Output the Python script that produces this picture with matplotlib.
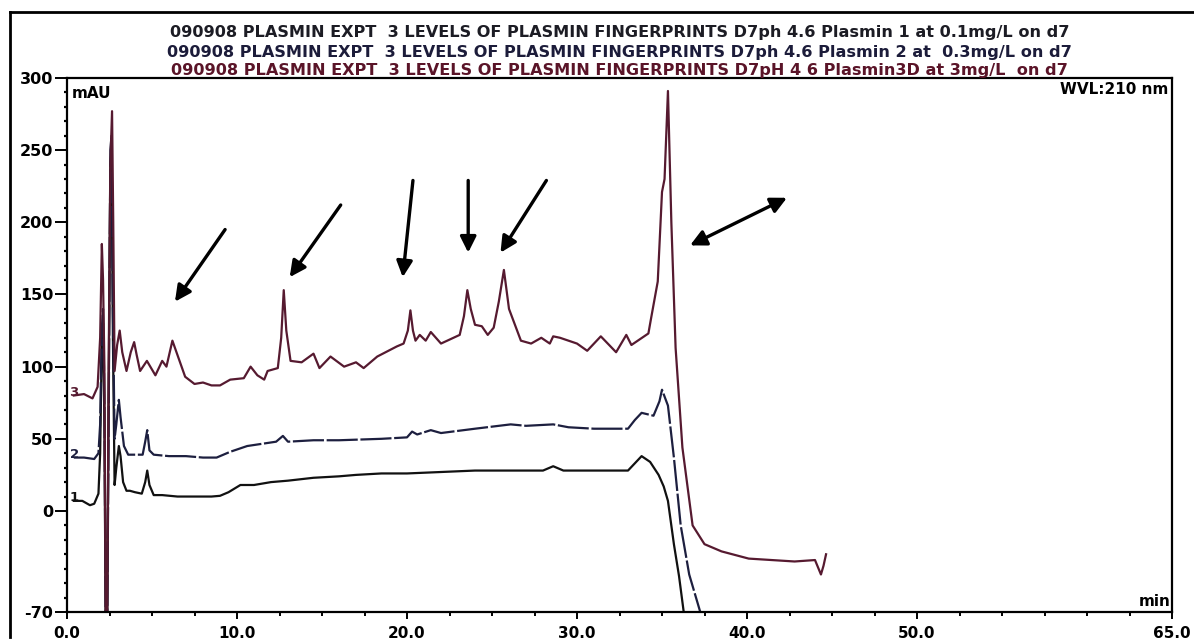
import matplotlib
matplotlib.use("Agg")
import matplotlib.pyplot as plt
from matplotlib.lines import Line2D
from matplotlib.ticker import MultipleLocator, FixedLocator

# chromatogram traces (time in min, signal in mAU)
t1 = [0.4, 0.9, 1.35, 1.6, 1.85, 1.95, 2.05, 2.12, 2.2, 2.28, 2.36, 2.45, 2.55, 2.62, 2.7,
      2.8, 2.9, 3.05, 3.15, 3.3, 3.5, 3.7, 4.0, 4.4, 4.6, 4.72, 4.85, 5.1, 5.6, 6.5, 7.5,
      8.5, 9.0, 9.5, 10.2, 11.0, 12.0, 13.0, 14.5, 16.0, 17.0, 18.5, 20.0, 22.0, 24.0, 26.0,
      28.0, 28.6, 29.2, 31.0, 33.0, 33.4, 33.8, 34.3, 34.8, 35.1, 35.35, 35.7, 36.0, 36.3]
v1 = [7, 7, 4, 5, 12, 40, 120, 130, 60, -90, -90, 80, 240, 250, 120,
      18, 30, 45, 38, 20, 14, 14, 13, 12, 20, 28, 18, 11, 11, 10, 10,
      10, 10.5, 13, 18, 18, 20, 21, 23, 24, 25, 26, 26, 27, 28, 28,
      28, 31, 28, 28, 28, 33, 38, 34, 25, 17, 7, -23, -45, -72]

t2 = [0.4, 1.0, 1.6, 1.85, 1.95, 2.05, 2.12, 2.2, 2.28, 2.36, 2.45, 2.55, 2.62, 2.7, 2.8,
      2.9, 3.05, 3.15, 3.35, 3.6, 4.0, 4.45, 4.6, 4.72, 4.85, 5.1, 6.0, 7.0, 8.0, 8.8, 9.6,
      10.6, 12.3, 12.7, 13.0, 14.5, 16.0, 18.5, 20.0, 20.3, 20.6, 21.4, 22.0, 24.0, 26.1,
      27.0, 28.6, 29.5, 31.0, 33.0, 33.4, 33.8, 34.5, 34.85, 35.0, 35.35, 35.7, 36.1, 36.6, 37.3]
v2 = [37, 37, 36, 40, 60, 127, 140, 80, -90, -90, 60, 250, 260, 140, 50,
      60, 77, 65, 45, 39, 39, 39, 48, 56, 42, 39, 38, 38, 37, 37, 41,
      45, 48, 52, 48, 49, 49, 50, 51, 55, 53, 56, 54, 57, 60,
      59, 60, 58, 57, 57, 63, 68, 66, 76, 84, 73, 37, -10, -44, -72]

t3 = [0.4, 1.0, 1.5, 1.8, 1.95, 2.05, 2.12, 2.2, 2.28, 2.36, 2.45, 2.55, 2.65, 2.72, 2.8,
      2.95, 3.1, 3.25, 3.5, 3.75, 3.95, 4.1, 4.3, 4.7, 5.2, 5.6, 5.85, 6.2, 6.5, 6.95, 7.5,
      8.0, 8.5, 9.0, 9.6, 10.4, 10.8, 11.2, 11.6, 11.8, 12.4, 12.6, 12.75, 12.9, 13.15, 13.8,
      14.5, 14.85, 15.5, 16.3, 17.0, 17.45, 18.25, 19.4, 19.8, 20.05, 20.2, 20.35, 20.5, 20.75,
      21.1, 21.4, 22.0, 23.1, 23.35, 23.55, 23.75, 24.0, 24.4, 24.75, 25.1, 25.4, 25.7, 26.0,
      26.7, 27.3, 27.9, 28.4, 28.6, 29.0, 30.0, 30.6, 31.4, 32.3, 32.9, 33.2, 34.2, 34.35,
      34.75, 35.0, 35.15, 35.35, 35.55, 35.8, 36.2, 36.8, 37.5, 38.5, 40.1, 42.8, 44.0, 44.35,
      44.5, 44.65]
v3 = [80, 81, 78, 86, 120, 185, 160, 100, -90, -90, 100, 240, 277, 200, 97,
      115, 125, 110, 97, 110, 117, 108, 97, 104, 94, 104, 100, 118, 108, 93, 88,
      89, 87, 87, 91, 92, 100, 94, 91, 97, 99, 120, 153, 125, 104, 103,
      109, 99, 107, 100, 103, 99, 107, 114, 116, 125, 139, 125, 118, 122,
      118, 124, 116, 122, 135, 153, 140, 129, 128, 122, 127, 145, 167, 140,
      118, 116, 120, 116, 121, 120, 116, 111, 121, 110, 122, 115, 123, 133,
      159, 221, 230, 291, 200, 113, 44, -10, -23, -28, -33, -35, -34, -44,
      -38, -30]

trace_names = ["1", "2", "3"]
header_lines = [
    "090908 PLASMIN EXPT  3 LEVELS OF PLASMIN FINGERPRINTS D7ph 4.6 Plasmin 1 at 0.1mg/L on d7",
    "090908 PLASMIN EXPT  3 LEVELS OF PLASMIN FINGERPRINTS D7ph 4.6 Plasmin 2 at  0.3mg/L on d7",
    "090908 PLASMIN EXPT  3 LEVELS OF PLASMIN FINGERPRINTS D7pH 4 6 Plasmin3D at 3mg/L  on d7",
]
x_tick_vals = [0, 10, 20, 30, 40, 50, 65]
x_tick_labels = ["0.0", "10.0", "20.0", "30.0", "40.0", "50.0", "65.0"]
y_tick_vals = [-70, 0, 50, 100, 150, 200, 250, 300]
y_tick_labels = ["-70", "0", "50", "100", "150", "200", "250", "300"]

# hand drawn arrows on the scan: (tail, head) in data coords
arrows = [((9.3, 195), (6.35, 145)),
          ((16.1, 212), (13.1, 162)),
          ((20.35, 229), (19.75, 162)),
          ((23.6, 229), (23.6, 179)),
          ((28.2, 229), (25.5, 179))]
double_arrow = ((36.65, 184), (42.35, 217))

plt.rcParams['font.family'] = 'DejaVu Sans'
plt.rcParams['font.weight'] = 'bold'

fig = plt.figure(figsize=(11.94, 6.43), dpi=100)
ax = fig.add_axes([67 / 1194, 1 - 612 / 643, (1172 - 67) / 1194, (612 - 78) / 643])

colors = ["#111111", "#1d1f3f", "#561a30"]
ax.plot(t1, v1, color=colors[0], lw=1.6)
ax.plot(t2, v2, color=colors[1], lw=1.6, dashes=(14, 1.2))
ax.plot(t3, v3, color=colors[2], lw=1.6)

# trace numbers at the left end
for name, v, c in zip(trace_names, [v1[0], v2[0], v3[0]], colors):
    ax.text(0.15, v + 2, name, color=c, fontsize=9.5, ha='left', va='center')

for (tail, head) in arrows:
    ax.annotate("", xy=head, xytext=tail,
                arrowprops=dict(arrowstyle='-|>', lw=2.4, color='black',
                                mutation_scale=24, shrinkA=0, shrinkB=0))
ax.annotate("", xy=double_arrow[1], xytext=double_arrow[0],
            arrowprops=dict(arrowstyle='<|-|>', lw=2.4, color='black',
                            mutation_scale=24, shrinkA=0, shrinkB=0))

ax.set_xlim(0, 65)
ax.set_ylim(-70, 300)
ax.xaxis.set_major_locator(FixedLocator(x_tick_vals))
ax.set_xticklabels(x_tick_labels)
ax.xaxis.set_minor_locator(MultipleLocator(2.5))
ax.yaxis.set_major_locator(FixedLocator(y_tick_vals))
ax.set_yticklabels(y_tick_labels)
ax.yaxis.set_minor_locator(MultipleLocator(10))
ax.tick_params(axis='y', which='major', length=9, width=1.4, labelsize=11.5, pad=1)
ax.tick_params(axis='y', which='minor', length=2, width=1.6)
ax.tick_params(axis='x', which='major', length=5, width=1.4, labelsize=11, pad=5)
ax.tick_params(axis='x', which='minor', length=3, width=1.4)
for lab in ax.get_xticklabels() + ax.get_yticklabels():
    lab.set_fontweight('bold')
for sp in ax.spines.values():
    sp.set_linewidth(1.6)
    sp.set_color('black')

ax.text(0.004, 0.985, "mAU", transform=ax.transAxes, fontsize=11, ha='left', va='top')
ax.text(0.997, 0.993, "WVL:210 nm", transform=ax.transAxes, fontsize=11, ha='right', va='top')
ax.text(0.999, 0.005, "min", transform=ax.transAxes, fontsize=11, ha='right', va='bottom')

# three header lines, one per trace
header_colors = ["#1c1c24", "#1c1c3a", "#5a1428"]
for i, (line, c) in enumerate(zip(header_lines, header_colors)):
    fig.text(0.519, 1 - (33 + 19 * i) / 643, line, color=c, fontsize=11.6,
             ha='center', va='center')

# scan border
fig.add_artist(Line2D([10 / 1194, 1.0], [1 - 12 / 643, 1 - 12 / 643], color='black', lw=2))
fig.add_artist(Line2D([10 / 1194, 10 / 1194], [1 - 12 / 643, 0.01], color='black', lw=2))

fig.savefig("out.png", dpi=100)
